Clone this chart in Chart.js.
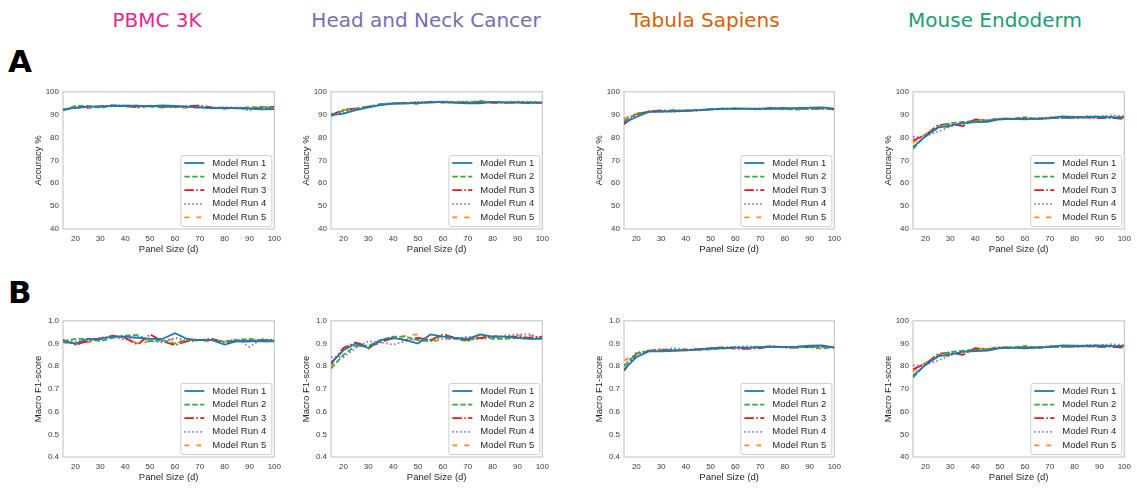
<!DOCTYPE html>
<html>
<head>
<meta charset="utf-8">
<title>Model runs</title>
<script src="https://cdn.jsdelivr.net/npm/chart.js@4.4.1/dist/chart.umd.min.js"></script>
<style>
body { margin: 0; background: #fff; }
#fig { position: relative; width: 1137px; height: 489px; overflow: hidden; font-family: "DejaVu Sans", sans-serif; }
.coltitle { position: absolute; top: 8px; font-size: 20px; line-height: 24px; transform: translateX(-50%); white-space: nowrap; }
.rowlabel { position: absolute; left: 8px; font-size: 31px; line-height: 30px; font-weight: bold; color: #000; }
canvas { position: absolute; }
</style>
</head>
<body>
<div id="fig"></div>
<script>
// x values and ticks
const panelSize = [15, 20, 25, 30, 35, 40, 45, 50, 55, 60, 65, 70, 75, 80, 85, 90, 95, 100];
const xTicks = [20, 30, 40, 50, 60, 70, 80, 90, 100];
const accTicks = [40, 50, 60, 70, 80, 90, 100];
const f1Ticks = [0.4, 0.5, 0.6, 0.7, 0.8, 0.9, 1.0];

const datasetNames = ['PBMC 3K', 'Head and Neck Cancer', 'Tabula Sapiens', 'Mouse Endoderm'];
const datasetColors = ['#e7298a', '#7570b3', '#d95f02', '#1b9e77'];
const titleCenters = [157, 426, 705, 995];

const runLabels = ['Model Run 1', 'Model Run 2', 'Model Run 3', 'Model Run 4', 'Model Run 5'];
const runColors = ['#1f77b4', '#3ca83c', '#e31a1c', '#8a6cc7', '#ff8c1a'];
const runDashes = [[], [5.5, 2.4], [9.6, 2.4, 1.5, 2.4], [1.5, 2.5], [5, 7]];

// accuracy %, one row per model run
const pbmcAcc = [
  [92.2, 93.0, 93.5, 93.6, 93.8, 93.9, 93.8, 93.7, 94.0, 93.8, 93.4, 93.2, 92.8, 93.0, 92.8, 92.6, 92.3, 92.4],
  [92.0, 93.8, 93.8, 93.0, 93.9, 93.8, 94.0, 93.5, 93.4, 93.5, 93.6, 93.3, 93.0, 92.8, 93.0, 93.2, 93.4, 93.0],
  [92.1, 93.2, 93.4, 93.5, 94.0, 93.7, 93.2, 93.9, 93.4, 93.3, 93.8, 93.9, 93.2, 92.7, 93.0, 92.7, 92.8, 93.5],
  [92.3, 93.2, 93.0, 93.4, 94.2, 94.0, 93.8, 93.6, 93.8, 93.9, 93.4, 93.1, 93.0, 93.2, 93.2, 91.8, 93.5, 93.2],
  [91.9, 93.0, 92.8, 93.7, 93.8, 93.8, 93.2, 93.8, 93.0, 93.4, 92.9, 93.1, 93.2, 93.0, 92.8, 93.0, 92.9, 92.6]
];
const hncAcc = [
  [89.8, 90.5, 92.0, 93.2, 94.2, 94.8, 94.8, 95.2, 95.3, 95.6, 95.2, 95.0, 95.0, 95.6, 95.4, 95.3, 95.2, 95.3],
  [89.5, 91.8, 92.6, 93.5, 94.6, 95.0, 95.1, 95.0, 95.7, 95.3, 95.5, 95.4, 96.0, 95.5, 95.2, 95.4, 95.5, 95.2],
  [89.9, 92.0, 92.8, 93.4, 94.5, 94.8, 95.1, 95.3, 95.6, 95.4, 95.4, 95.2, 95.6, 95.2, 95.2, 95.5, 95.0, 95.3],
  [90.2, 91.0, 92.2, 93.3, 94.4, 94.9, 95.2, 95.6, 95.5, 95.8, 95.6, 95.8, 95.4, 95.4, 95.5, 95.8, 95.6, 95.3],
  [89.3, 92.0, 92.6, 93.6, 94.5, 94.9, 95.3, 94.5, 95.8, 95.6, 95.5, 95.5, 95.4, 95.5, 95.5, 95.2, 95.5, 95.4]
];
const tsAcc = [
  [86.5, 89.0, 91.2, 91.3, 91.5, 91.7, 92.0, 92.3, 92.5, 92.6, 92.6, 92.5, 92.8, 92.7, 92.9, 93.1, 93.2, 92.6],
  [87.0, 90.5, 91.3, 91.4, 91.8, 91.9, 92.1, 92.2, 92.5, 92.7, 92.5, 92.6, 92.7, 92.4, 92.2, 92.6, 92.6, 92.5],
  [85.8, 90.0, 91.4, 91.9, 91.6, 91.7, 91.8, 92.3, 92.6, 92.5, 92.5, 92.3, 92.7, 92.8, 92.6, 92.5, 92.7, 92.3],
  [87.5, 90.3, 91.2, 91.5, 91.2, 91.8, 92.0, 92.5, 92.7, 92.8, 92.6, 92.8, 92.5, 92.7, 92.7, 92.9, 92.8, 92.6],
  [88.2, 90.4, 91.4, 91.3, 92.2, 91.9, 91.9, 92.4, 92.6, 92.5, 92.6, 92.5, 93.3, 92.8, 92.6, 92.6, 92.7, 92.5]
];
const mouseAcc = [
  [75.8, 80.5, 84.3, 85.2, 86.3, 86.7, 86.9, 88.0, 88.2, 87.9, 88.2, 88.4, 89.2, 89.0, 88.9, 89.0, 88.8, 88.8],
  [75.0, 80.8, 84.8, 86.3, 86.8, 87.2, 87.5, 88.0, 88.2, 88.9, 88.0, 88.6, 88.5, 88.7, 89.1, 89.2, 89.0, 88.9],
  [78.7, 81.0, 85.4, 86.0, 85.0, 87.9, 87.4, 88.3, 88.0, 88.3, 88.3, 88.8, 88.6, 88.6, 88.8, 88.5, 88.6, 88.1],
  [80.3, 80.6, 82.5, 84.8, 86.5, 87.2, 87.6, 88.2, 88.4, 88.0, 88.5, 88.6, 88.8, 88.7, 89.3, 89.2, 89.7, 89.4],
  [77.7, 81.5, 84.0, 84.8, 86.2, 87.6, 87.8, 88.4, 88.4, 88.6, 88.2, 88.5, 88.8, 88.5, 88.7, 88.6, 88.7, 88.4]
];

// macro F1
const pbmcF1 = [
  [0.910, 0.900, 0.920, 0.920, 0.930, 0.930, 0.925, 0.920, 0.920, 0.945, 0.920, 0.915, 0.915, 0.895, 0.910, 0.910, 0.910, 0.910],
  [0.910, 0.920, 0.920, 0.910, 0.925, 0.935, 0.937, 0.910, 0.915, 0.900, 0.915, 0.915, 0.915, 0.910, 0.915, 0.920, 0.915, 0.915],
  [0.915, 0.895, 0.910, 0.920, 0.935, 0.925, 0.895, 0.940, 0.910, 0.893, 0.910, 0.915, 0.920, 0.905, 0.910, 0.910, 0.915, 0.915],
  [0.915, 0.910, 0.910, 0.925, 0.930, 0.915, 0.930, 0.910, 0.905, 0.925, 0.915, 0.915, 0.920, 0.905, 0.920, 0.885, 0.920, 0.915],
  [0.905, 0.895, 0.905, 0.925, 0.930, 0.925, 0.900, 0.910, 0.920, 0.915, 0.910, 0.915, 0.905, 0.910, 0.910, 0.915, 0.910, 0.910]
];
const hncF1 = [
  [0.815, 0.870, 0.900, 0.880, 0.915, 0.925, 0.915, 0.900, 0.940, 0.930, 0.925, 0.920, 0.940, 0.930, 0.930, 0.925, 0.920, 0.920],
  [0.790, 0.850, 0.890, 0.890, 0.915, 0.930, 0.930, 0.915, 0.910, 0.935, 0.920, 0.910, 0.940, 0.920, 0.920, 0.925, 0.920, 0.925],
  [0.810, 0.880, 0.905, 0.885, 0.905, 0.925, 0.915, 0.925, 0.915, 0.940, 0.925, 0.915, 0.925, 0.930, 0.930, 0.930, 0.925, 0.930],
  [0.840, 0.840, 0.880, 0.910, 0.905, 0.895, 0.910, 0.920, 0.915, 0.920, 0.920, 0.930, 0.920, 0.925, 0.935, 0.940, 0.940, 0.920],
  [0.800, 0.880, 0.895, 0.875, 0.915, 0.920, 0.935, 0.940, 0.905, 0.920, 0.920, 0.920, 0.920, 0.935, 0.925, 0.935, 0.935, 0.930]
];
const tsF1 = [
  [0.785, 0.840, 0.865, 0.865, 0.868, 0.870, 0.873, 0.878, 0.880, 0.882, 0.882, 0.884, 0.885, 0.885, 0.886, 0.890, 0.892, 0.882],
  [0.800, 0.855, 0.868, 0.870, 0.872, 0.870, 0.872, 0.874, 0.878, 0.882, 0.880, 0.884, 0.886, 0.884, 0.884, 0.884, 0.878, 0.884],
  [0.780, 0.855, 0.866, 0.875, 0.868, 0.872, 0.875, 0.878, 0.882, 0.878, 0.876, 0.880, 0.888, 0.882, 0.882, 0.884, 0.886, 0.882],
  [0.805, 0.860, 0.868, 0.870, 0.880, 0.872, 0.876, 0.880, 0.882, 0.886, 0.887, 0.885, 0.886, 0.884, 0.885, 0.888, 0.890, 0.885],
  [0.825, 0.855, 0.870, 0.873, 0.870, 0.876, 0.874, 0.880, 0.885, 0.884, 0.882, 0.885, 0.890, 0.882, 0.884, 0.886, 0.886, 0.885]
];
// the mouse endoderm F1 panel shows the same curves (0-100 scale) as its accuracy panel
const mouseF1 = mouseAcc;

// plot boxes in page pixels
const colX = [[63, 276], [331, 544], [624, 836], [913, 1126]];
const rowY = [[91, 229], [320, 457]];

const tickFont = { family: 'Liberation Sans, Arial, sans-serif', size: 8 };
const labelFont = { family: 'Liberation Sans, Arial, sans-serif', size: 9.5 };

const fig = document.getElementById('fig');

datasetNames.forEach(function (name, i) {
    var d = document.createElement('div');
    d.className = 'coltitle';
    d.style.left = titleCenters[i] + 'px';
    d.style.color = datasetColors[i];
    d.textContent = name;
    fig.appendChild(d);
});
['A', 'B'].forEach(function (t, i) {
    var d = document.createElement('div');
    d.className = 'rowlabel';
    d.style.top = (i === 0 ? 46 : 277) + 'px';
    d.textContent = t;
    fig.appendChild(d);
});

// light grey box round the plot area
const frame = {
    id: 'frame',
    beforeDatasetsDraw(chart) {
        const a = chart.chartArea, ctx = chart.ctx;
        ctx.save();
        ctx.strokeStyle = '#cccccc';
        ctx.lineWidth = 1.25;
        ctx.strokeRect(a.left, a.top, a.right - a.left, a.bottom - a.top);
        ctx.restore();
    }
};

// legend drawn inside the plot, lower right
const innerLegend = {
    id: 'innerLegend',
    afterDatasetsDraw(chart) {
        const a = chart.chartArea, ctx = chart.ctx;
        const w = 91, h = 71;
        const x0 = a.right - 3 - w, y0 = a.bottom - 3 - h;
        ctx.save();
        ctx.fillStyle = 'rgba(255,255,255,0.85)';
        ctx.strokeStyle = '#d0d0d0';
        ctx.lineWidth = 1;
        ctx.beginPath();
        ctx.roundRect(x0 + 0.5, y0 + 0.5, w, h, 2);
        ctx.fill();
        ctx.stroke();
        ctx.font = labelFont.size + 'px ' + labelFont.family;
        ctx.textBaseline = 'middle';
        ctx.fillStyle = '#262626';
        chart.data.datasets.forEach(function (ds, k) {
            const yy = y0 + 8 + k * 13.6;
            ctx.strokeStyle = ds.borderColor;
            ctx.lineWidth = ds.borderWidth;
            ctx.setLineDash(ds.borderDash);
            ctx.beginPath();
            ctx.moveTo(x0 + 4, yy);
            ctx.lineTo(x0 + 24, yy);
            ctx.stroke();
            ctx.setLineDash([]);
            ctx.fillText(ds.label, x0 + 32, yy);
        });
        ctx.restore();
    }
};

function makePanel(col, row, runs, yTicks, yTitle, decimals) {
    const L = colX[col][0], R = colX[col][1], T = rowY[row][0], B = rowY[row][1];
    const cv = document.createElement('canvas');
    const cw = R - L + 46, ch = B - T + 38;
    cv.width = cw; cv.height = ch;
    cv.style.left = (L - 36) + 'px';
    cv.style.top = (T - 8) + 'px';
    cv.style.width = cw + 'px';
    cv.style.height = ch + 'px';
    fig.appendChild(cv);

    const datasets = runs.map(function (vals, k) {
        return {
            label: runLabels[k],
            data: panelSize.map(function (x, j) { return { x: x, y: vals[j] }; }),
            borderColor: runColors[k],
            backgroundColor: runColors[k],
            borderWidth: 1.8,
            borderDash: runDashes[k],
            pointRadius: 0,
            tension: 0,
            fill: false
        };
    });

    new Chart(cv, {
        type: 'line',
        data: { datasets: datasets },
        options: {
            responsive: false,
            animation: false,
            layout: { padding: { top: 8, right: 10, left: 0, bottom: 0 } },
            plugins: { legend: { display: false }, tooltip: { enabled: false } },
            scales: {
                x: {
                    type: 'linear',
                    min: 15, max: 100,
                    grid: { display: false, drawTicks: false },
                    border: { display: false },
                    afterBuildTicks: function (s) { s.ticks = xTicks.map(function (v) { return { value: v }; }); },
                    afterFit: function (s) { s.height = 30; },
                    ticks: { font: tickFont, color: '#3a3a3a', padding: 5, maxRotation: 0, autoSkip: false },
                    title: { display: true, text: 'Panel Size (d)', font: labelFont, color: '#262626', padding: { top: 0, bottom: 4 } }
                },
                y: {
                    min: yTicks[0], max: yTicks[yTicks.length - 1],
                    grid: { display: false, drawTicks: false },
                    border: { display: false },
                    afterBuildTicks: function (s) { s.ticks = yTicks.map(function (v) { return { value: v }; }); },
                    afterFit: function (s) { s.width = 36; },
                    ticks: {
                        font: tickFont, color: '#3a3a3a', padding: 4, autoSkip: false,
                        callback: function (v) { return Number(v).toFixed(decimals); }
                    },
                    title: { display: true, text: yTitle, font: labelFont, color: '#262626', padding: { top: 6, bottom: 0 } }
                }
            }
        },
        plugins: [frame, innerLegend]
    });
}

makePanel(0, 0, pbmcAcc, accTicks, 'Accuracy %', 0);
makePanel(1, 0, hncAcc, accTicks, 'Accuracy %', 0);
makePanel(2, 0, tsAcc, accTicks, 'Accuracy %', 0);
makePanel(3, 0, mouseAcc, accTicks, 'Accuracy %', 0);
makePanel(0, 1, pbmcF1, f1Ticks, 'Macro F1-score', 1);
makePanel(1, 1, hncF1, f1Ticks, 'Macro F1-score', 1);
makePanel(2, 1, tsF1, f1Ticks, 'Macro F1-score', 1);
makePanel(3, 1, mouseF1, accTicks, 'Macro F1-score', 0);
</script>
</body>
</html>
